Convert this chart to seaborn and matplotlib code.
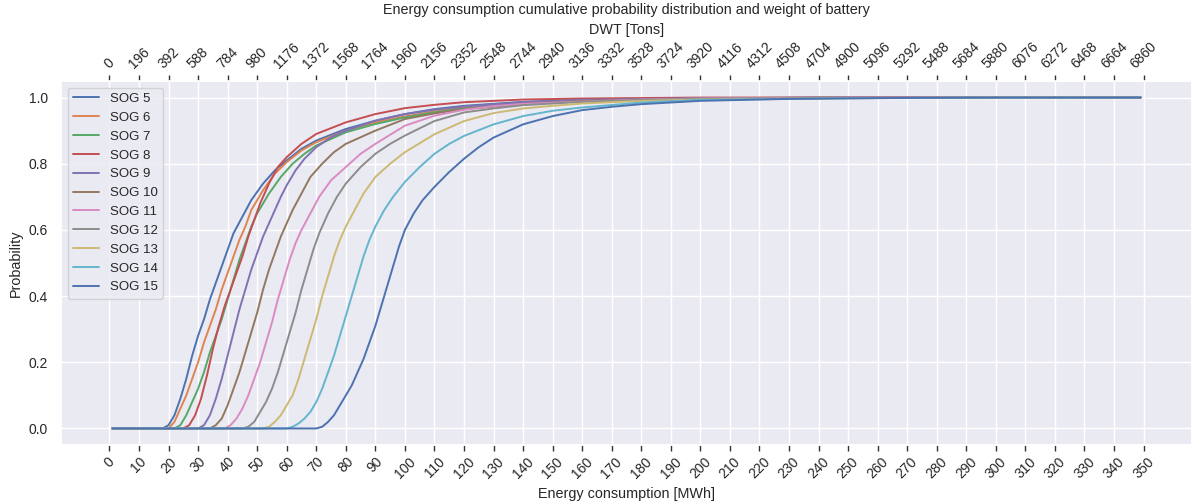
import matplotlib
matplotlib.use("Agg")
import pandas as pd
import matplotlib.pyplot as plt
import seaborn as sns

# =======================
# 1. Data
# =======================
# energy consumption [MWh] and cumulative probability for each speed over ground
sog5_mwh = [1, 18, 20, 22, 24, 26, 28, 30, 32, 34, 36, 38, 40, 42, 45, 48, 52, 56, 60, 65, 70, 80, 90, 100, 110, 120, 140, 160, 200, 250, 349]
sog5_prob = [0, 0, 0.01, 0.04, 0.09, 0.15, 0.22, 0.28, 0.33, 0.39, 0.44, 0.49, 0.54, 0.59, 0.64, 0.69, 0.74, 0.78, 0.81, 0.845, 0.87, 0.905, 0.93, 0.95, 0.965, 0.975, 0.987, 0.993, 0.998, 1.0, 1.0]

sog6_mwh = [1, 20, 22, 24, 26, 28, 30, 32, 34, 36, 38, 40, 42, 44, 46, 48, 52, 56, 60, 65, 70, 80, 90, 100, 110, 120, 140, 160, 200, 250, 349]
sog6_prob = [0, 0, 0.02, 0.06, 0.1, 0.15, 0.2, 0.26, 0.31, 0.36, 0.42, 0.47, 0.52, 0.57, 0.61, 0.66, 0.72, 0.77, 0.805, 0.84, 0.865, 0.9, 0.925, 0.943, 0.958, 0.97, 0.984, 0.991, 0.997, 1.0, 1.0]

sog7_mwh = [1, 22, 24, 26, 28, 30, 32, 34, 36, 38, 40, 42, 44, 46, 48, 50, 54, 58, 62, 66, 70, 80, 90, 100, 110, 120, 140, 160, 200, 250, 349]
sog7_prob = [0, 0, 0.01, 0.04, 0.08, 0.12, 0.17, 0.23, 0.28, 0.33, 0.39, 0.45, 0.51, 0.56, 0.61, 0.65, 0.71, 0.76, 0.8, 0.83, 0.855, 0.895, 0.92, 0.94, 0.955, 0.967, 0.982, 0.99, 0.997, 1.0, 1.0]

sog8_mwh = [1, 25, 27, 29, 31, 33, 35, 37, 39, 41, 43, 45, 47, 49, 51, 54, 57, 60, 65, 70, 80, 90, 100, 110, 120, 140, 160, 200, 349]
sog8_prob = [0, 0, 0.01, 0.04, 0.09, 0.16, 0.24, 0.31, 0.37, 0.42, 0.47, 0.52, 0.58, 0.63, 0.68, 0.74, 0.79, 0.82, 0.86, 0.89, 0.925, 0.95, 0.968, 0.978, 0.986, 0.994, 0.997, 1.0, 1.0]

sog9_mwh = [1, 30, 32, 34, 36, 38, 40, 42, 44, 46, 48, 50, 52, 54, 56, 58, 60, 63, 66, 70, 75, 80, 90, 100, 110, 120, 140, 160, 200, 250, 349]
sog9_prob = [0, 0, 0.01, 0.04, 0.09, 0.15, 0.22, 0.29, 0.36, 0.42, 0.48, 0.53, 0.58, 0.62, 0.66, 0.7, 0.735, 0.78, 0.815, 0.85, 0.88, 0.9, 0.93, 0.95, 0.963, 0.973, 0.986, 0.993, 0.998, 1.0, 1.0]

sog10_mwh = [1, 34, 36, 38, 40, 42, 44, 46, 48, 50, 52, 54, 56, 58, 60, 62, 65, 68, 72, 76, 80, 90, 100, 110, 120, 140, 160, 200, 250, 349]
sog10_prob = [0, 0, 0.01, 0.03, 0.07, 0.12, 0.17, 0.23, 0.29, 0.35, 0.42, 0.48, 0.53, 0.58, 0.62, 0.66, 0.71, 0.76, 0.8, 0.835, 0.86, 0.9, 0.935, 0.952, 0.965, 0.98, 0.99, 0.997, 1.0, 1.0]

sog11_mwh = [1, 39, 41, 43, 45, 47, 49, 51, 53, 55, 57, 59, 61, 63, 65, 68, 71, 75, 80, 85, 90, 100, 110, 120, 130, 140, 160, 180, 200, 250, 349]
sog11_prob = [0, 0, 0.01, 0.03, 0.06, 0.1, 0.15, 0.2, 0.26, 0.32, 0.39, 0.45, 0.51, 0.56, 0.6, 0.65, 0.7, 0.75, 0.79, 0.83, 0.86, 0.915, 0.945, 0.963, 0.974, 0.981, 0.988, 0.994, 0.997, 1.0, 1.0]

sog12_mwh = [1, 45, 47, 49, 51, 53, 55, 57, 59, 61, 63, 65, 67, 69, 71, 74, 77, 80, 85, 90, 95, 100, 110, 120, 130, 140, 160, 180, 200, 250, 349]
sog12_prob = [0, 0, 0.005, 0.02, 0.05, 0.08, 0.12, 0.17, 0.23, 0.29, 0.35, 0.42, 0.48, 0.54, 0.59, 0.65, 0.7, 0.74, 0.79, 0.83, 0.86, 0.885, 0.929, 0.955, 0.967, 0.977, 0.987, 0.993, 0.996, 0.999, 1.0]

sog13_mwh = [1, 52, 54, 56, 58, 60, 62, 64, 66, 68, 70, 72, 74, 76, 78, 80, 83, 86, 90, 95, 100, 110, 120, 130, 140, 150, 160, 180, 200, 250, 300, 349]
sog13_prob = [0, 0, 0.005, 0.02, 0.04, 0.07, 0.1, 0.15, 0.21, 0.27, 0.33, 0.4, 0.46, 0.52, 0.57, 0.61, 0.66, 0.71, 0.76, 0.8, 0.835, 0.889, 0.929, 0.953, 0.967, 0.975, 0.982, 0.99, 0.994, 0.998, 1.0, 1.0]

sog14_mwh = [1, 60, 62, 64, 66, 68, 70, 72, 74, 76, 78, 80, 82, 84, 86, 88, 90, 93, 96, 100, 105, 110, 115, 120, 130, 140, 150, 160, 180, 200, 250, 300, 349]
sog14_prob = [0, 0, 0.005, 0.015, 0.03, 0.05, 0.08, 0.12, 0.17, 0.22, 0.28, 0.34, 0.4, 0.46, 0.52, 0.57, 0.61, 0.66, 0.7, 0.745, 0.79, 0.83, 0.86, 0.884, 0.919, 0.944, 0.96, 0.97, 0.985, 0.993, 0.998, 1.0, 1.0]

sog15_mwh = [1, 70, 72, 74, 76, 78, 80, 82, 84, 86, 88, 90, 92, 94, 96, 98, 100, 103, 106, 110, 115, 120, 125, 130, 140, 150, 160, 170, 180, 200, 230, 270, 300, 349]
sog15_prob = [0, 0, 0.005, 0.02, 0.04, 0.07, 0.1, 0.13, 0.17, 0.21, 0.26, 0.31, 0.37, 0.43, 0.49, 0.55, 0.6, 0.65, 0.69, 0.73, 0.775, 0.815, 0.85, 0.879, 0.919, 0.944, 0.962, 0.972, 0.98, 0.99, 0.996, 0.999, 1.0, 1.0]

sog_labels = ["SOG 5", "SOG 6", "SOG 7", "SOG 8", "SOG 9", "SOG 10",
              "SOG 11", "SOG 12", "SOG 13", "SOG 14", "SOG 15"]
series_mwh = [sog5_mwh, sog6_mwh, sog7_mwh, sog8_mwh, sog9_mwh, sog10_mwh,
              sog11_mwh, sog12_mwh, sog13_mwh, sog14_mwh, sog15_mwh]
series_prob = [sog5_prob, sog6_prob, sog7_prob, sog8_prob, sog9_prob, sog10_prob,
               sog11_prob, sog12_prob, sog13_prob, sog14_prob, sog15_prob]

# bottom axis ticks [MWh] and matching battery weight labels [Tons]
mwh_ticks = list(range(0, 351, 10))
dwt_labels = ["0", "196", "392", "588", "784", "980", "1176", "1372", "1568", "1764",
              "1960", "2156", "2352", "2548", "2744", "2940", "3136", "3332", "3528",
              "3724", "3920", "4116", "4312", "4508", "4704", "4900", "5096", "5292",
              "5488", "5684", "5880", "6076", "6272", "6468", "6664", "6860"]

# =======================
# 2. Plot
# =======================
sns.set_theme(style="darkgrid")
plt.rcParams['font.family'] = ['Liberation Sans', 'DejaVu Sans']

fig = plt.figure(figsize=(11.92, 5.03), dpi=100)
ax = fig.add_axes([61 / 1192, 1 - 445 / 503, 1131 / 1192, 364 / 503])

for label, mwh, prob in zip(sog_labels, series_mwh, series_prob):
    df = pd.DataFrame({"Energy": mwh, "Probability": prob})
    sns.lineplot(data=df, x="Energy", y="Probability", label=label,
                 estimator=None, linewidth=1.4, ax=ax)

ax.set_xticks(mwh_ticks)
ax.set_xticklabels([str(t) for t in mwh_ticks], rotation=45, fontsize=10)
ax.tick_params(axis='x', bottom=True, length=4, width=1, color='#333333', pad=3)
ax.tick_params(axis='y', labelsize=10)
ax.set_xlabel("Energy consumption [MWh]", fontsize=10.4)
ax.set_ylabel("Probability", fontsize=10.4)
ax.legend(loc="upper left", fontsize=9.5)

# top axis with battery weight
ax2 = ax.twiny()
ax2.set_xlim(ax.get_xlim())
ax2.set_xticks(mwh_ticks)
ax2.set_xticklabels(dwt_labels, rotation=45, fontsize=10)
ax2.tick_params(axis='x', top=True, length=4, width=1, color='#333333', pad=3)
ax2.grid(False)
ax2.set_xlabel("DWT [Tons]", fontsize=10.4)
ax2.set_title("Energy consumption cumulative probability distribution and weight of battery",
              fontsize=10.4)

fig.savefig("out.png", dpi=100)
